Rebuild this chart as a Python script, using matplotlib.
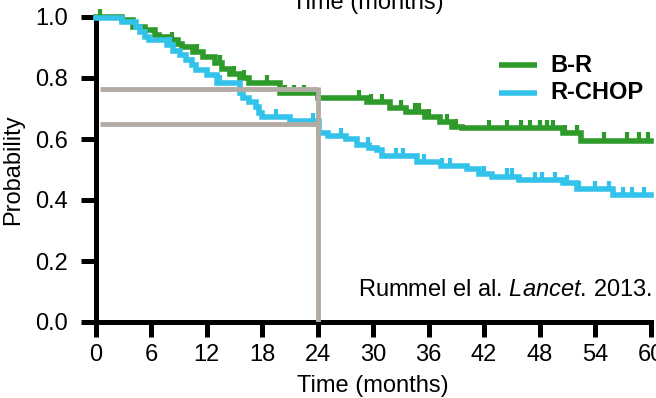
import numpy as np
import matplotlib
matplotlib.use('Agg')
import matplotlib.pyplot as plt

# Kaplan-Meier steps (time in months, survival probability)
br_time = [0, 2.9, 4.0, 5.3, 6.4, 6.9, 8.0, 8.9, 9.4, 10.5, 11.6, 12.9, 13.7, 14.5, 15.6,
           16.6, 19.9, 24.0, 29.3, 31.8, 33.6, 35.6, 37.2, 38.5, 39.6, 50.5, 52.5]
br_surv = [1.0, 0.99, 0.967, 0.957, 0.94, 0.933, 0.925, 0.912, 0.90, 0.885, 0.87, 0.848, 0.83,
           0.812, 0.80, 0.784, 0.752, 0.735, 0.72, 0.70, 0.69, 0.673, 0.657, 0.64, 0.635, 0.62, 0.595]
br_censor = [0.5, 8.3, 11.0, 13.5, 15.0, 16.0, 18.5, 20.5, 21.5, 22.5, 28.5, 29.8, 31.0, 33.0,
             34.5, 35.0, 36.0, 38.0, 39.0, 42.5, 44.5, 46.0, 47.0, 48.0, 48.8, 49.5, 50.8,
             52.0, 55.0, 57.5, 58.8, 59.7]

rchop_time = [0, 2.9, 4.4, 4.8, 5.3, 5.8, 7.7, 8.4, 9.1, 9.8, 10.4, 10.9, 12.0, 13.1, 15.6,
              15.9, 16.6, 17.4, 17.7, 18.0, 21.0, 24.2, 25.1, 27.1, 28.3, 29.6, 30.4, 31.0,
              34.8, 37.4, 40.2, 41.5, 42.9, 45.8, 50.5, 52.0, 55.9]
rchop_surv = [0.997, 0.984, 0.967, 0.95, 0.935, 0.925, 0.908, 0.89, 0.876, 0.86, 0.843, 0.827,
              0.81, 0.784, 0.75, 0.735, 0.72, 0.706, 0.686, 0.673, 0.66, 0.62, 0.61, 0.60, 0.58,
              0.572, 0.565, 0.543, 0.526, 0.51, 0.50, 0.484, 0.477, 0.467, 0.455, 0.435, 0.415]
rchop_censor = [8.0, 13.5, 19.5, 23.5, 26.5, 29.5, 32.5, 33.2, 35.5, 37.5, 38.3, 42.0, 44.5,
                45.0, 47.5, 48.3, 49.7, 51.0, 52.3, 54.0, 55.5, 57.0, 58.0, 59.3]

arms = ['B-R', 'R-CHOP']

# 24 month landmark
landmark = 24
landmark_br = 0.765
landmark_rchop = 0.648

green = '#2e9a2a'
blue = '#33c3ea'
gray = '#b3aca5'

plt.rcParams['font.family'] = ['Liberation Sans', 'DejaVu Sans']
plt.rcParams['mathtext.fontset'] = 'custom'
plt.rcParams['mathtext.rm'] = 'Liberation Sans'
plt.rcParams['mathtext.it'] = 'Liberation Sans:italic'

fig = plt.figure(figsize=(6.56, 3.98), dpi=100)
ax = fig.add_axes([95.5 / 656, 76 / 398, 555 / 656, 305 / 398])


def surv_at(times, surv, t):
    i = np.searchsorted(times, t, side='right') - 1
    return surv[i]


for times, surv, cens, col in [(br_time, br_surv, br_censor, green),
                               (rchop_time, rchop_surv, rchop_censor, blue)]:
    tt = list(times) + [60]
    ss = list(surv) + [surv[-1]]
    ax.step(tt, ss, where='post', color=col, lw=4, clip_on=False, zorder=3,
            solid_joinstyle='miter')
    cy = [surv_at(times, surv, c) + 0.01 for c in cens]
    ax.plot(cens, cy, ls='none', marker='|', ms=7, mew=3, color=col, clip_on=False, zorder=3)

# landmark guide lines
ax.plot([0.5, landmark], [landmark_br, landmark_br], color=gray, lw=3.5, zorder=4,
        solid_capstyle='butt')
ax.plot([0.5, landmark], [landmark_rchop, landmark_rchop], color=gray, lw=3.5, zorder=4,
        solid_capstyle='butt')
ax.plot([landmark, landmark], [0, landmark_br + 0.007], color=gray, lw=3.5, zorder=4,
        solid_capstyle='butt')

ax.set_xlim(0, 60)
ax.set_ylim(0, 1.0)
ax.set_xticks(np.arange(0, 61, 6))
ax.set_yticks([0.0, 0.2, 0.4, 0.6, 0.8, 1.0])
ax.set_yticklabels(['0.0', '0.2', '0.4', '0.6', '0.8', '1.0'])
for s in ['top', 'right']:
    ax.spines[s].set_visible(False)
for s in ['left', 'bottom']:
    ax.spines[s].set_linewidth(3.6)
    ax.spines[s].set_capstyle('projecting')
ax.tick_params(width=3.6, length=11, labelsize=17)
ax.tick_params(axis='x', pad=5)
ax.tick_params(axis='y', pad=9)
ax.set_xlabel('Time (months)', fontsize=17, labelpad=6)
ax.set_ylabel('Probability', fontsize=17, labelpad=8)

# legend drawn by hand to sit where the reference has it
for i, (lab, col) in enumerate(zip(arms, [green, blue])):
    yy = 0.841 - i * 0.09
    ax.plot([0.727, 0.7955], [yy, yy], transform=ax.transAxes, color=col, lw=4,
            solid_capstyle='butt', clip_on=False)
    ax.text(0.819, yy, lab, transform=ax.transAxes, ha='left', va='center',
            fontsize=17, fontweight='bold')

ax.text(1.003, 0.105, 'Rummel el al. $Lancet$. 2013.', transform=ax.transAxes,
        ha='right', va='center', fontsize=17)

# title of the panel above, cut by the crop
fig.text(0.56, 1 - 9 / 398, 'Time (months)', ha='center', va='baseline', fontsize=17)

fig.savefig('out.png', dpi=100)
